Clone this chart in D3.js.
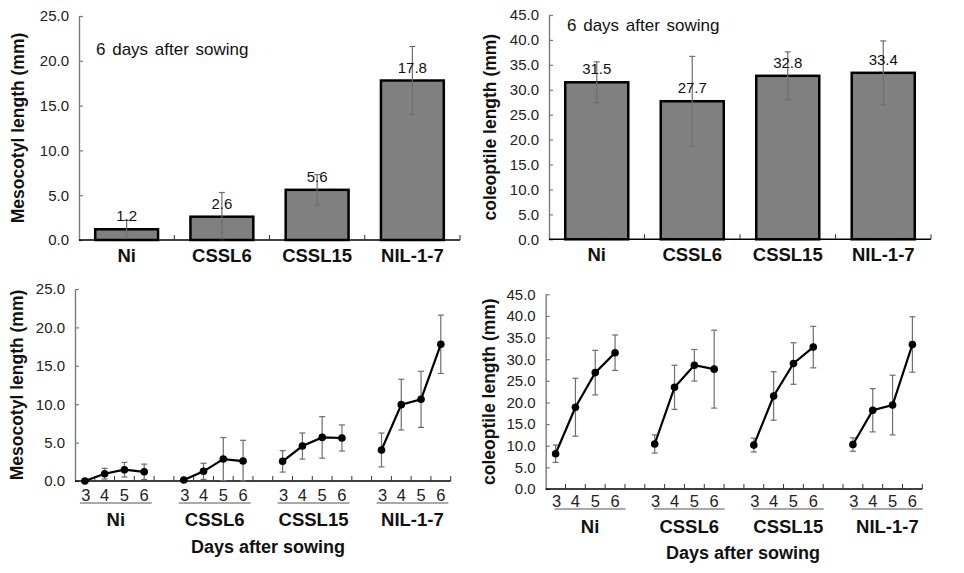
<!DOCTYPE html>
<html><head><meta charset="utf-8">
<script src="https://cdn.jsdelivr.net/npm/d3@7"></script>
<style>body{margin:0;background:#fff}svg{display:block}</style>
</head><body>
<script>
// ---- data ----
const categories = ["Ni", "CSSL6", "CSSL15", "NIL-1-7"];
const days = ["3", "4", "5", "6"];
const mesoBar = [1.2, 2.6, 5.6, 17.8];
const mesoBarSD = [1.0, 2.7, 1.7, 3.8];
const coleBar = [31.5, 27.7, 32.8, 33.4];
const coleBarSD = [4.1, 9.0, 4.8, 6.4];
const mesoMeans = [[0.0, 0.95, 1.47, 1.2], [0.13, 1.26, 2.86, 2.6], [2.56, 4.55, 5.68, 5.6], [4.04, 9.94, 10.63, 17.8]];
const mesoSD = [[0, 0.7, 0.95, 1.0], [0, 1.05, 2.8, 2.7], [1.4, 1.7, 2.7, 1.7], [2.2, 3.3, 3.65, 3.8]];
const coleMeans = [[8.15, 18.9, 26.9, 31.5], [10.4, 23.5, 28.6, 27.7], [10.15, 21.5, 29.0, 32.8], [10.27, 18.2, 19.4, 33.4]];
const coleSD = [[2.0, 6.7, 5.15, 4.1], [2.1, 5.1, 3.65, 9.0], [1.6, 5.6, 4.8, 4.8], [1.55, 5.0, 6.9, 6.4]];
const mesoTicks = [0, 5, 10, 15, 20, 25];
const coleTicks = [0, 5, 10, 15, 20, 25, 30, 35, 40, 45];
const mesoTitle = "Mesocotyl length (mm)";
const coleTitle = "coleoptile length (mm)";
const noteText = "6 days after sowing";
const xTitle = "Days after sowing";

const W = 964, H = 573;
const FONT = "'Liberation Sans', Arial, sans-serif";
const svg = d3.select("body").append("svg").attr("width", W).attr("height", H)
  .style("font-family", FONT);

function yAxis(g, y, ticks, x0) {
  const ax = d3.axisLeft(y).tickValues(ticks).tickFormat(d3.format(".1f"))
    .tickSizeInner(-4).tickSizeOuter(0).tickPadding(10);
  const a = g.append("g").attr("transform", `translate(${x0},0)`).call(ax);
  a.select(".domain").attr("stroke", "#7a7a7a").attr("stroke-width", 1.4);
  a.selectAll(".tick line").attr("stroke", "#7a7a7a").attr("stroke-width", 1.2);
  a.selectAll(".tick text").attr("font-size", 15).attr("fill", "#222").attr("font-family", FONT);
}

function yTitle(g, text, cx, cy) {
  g.append("text").attr("transform", `translate(${cx},${cy}) rotate(-90)`)
    .attr("text-anchor", "middle").attr("dominant-baseline", "central")
    .attr("font-weight", "bold").attr("font-size", 17.5).attr("fill", "#111").text(text);
}

function errBar(g, x, yTop, yBot, cap) {
  g.append("line").attr("x1", x).attr("x2", x).attr("y1", yTop).attr("y2", yBot)
    .attr("stroke", "#6e6e6e").attr("stroke-width", 1.2);
  [yTop, yBot].forEach(yy => g.append("line").attr("x1", x - cap).attr("x2", x + cap)
    .attr("y1", yy).attr("y2", yy).attr("stroke", "#6e6e6e").attr("stroke-width", 1.2));
}

// ---- bar panels ----
function barPanel(cfg) {
  const g = svg.append("g");
  const y = d3.scaleLinear().domain([0, cfg.max]).range([cfg.yBot, cfg.yTop]);
  const xb = d3.scaleBand().domain(cfg.cats).range([cfg.x0, cfg.x1]).paddingInner(0.34).paddingOuter(0.17);
  const xs = d3.scaleBand().domain(cfg.cats).range([cfg.x0, cfg.x1]).padding(0);
  g.selectAll("rect.bar").data(cfg.values).enter().append("rect")
    .attr("x", (d, i) => xb(cfg.cats[i])).attr("width", xb.bandwidth())
    .attr("y", d => y(d)).attr("height", d => y(0) - y(d))
    .attr("fill", "#808080").attr("stroke", "#000").attr("stroke-width", 2.5);
  cfg.values.forEach((v, i) => {
    const cx = xb(cfg.cats[i]) + xb.bandwidth() / 2;
    errBar(g, cx, y(v + cfg.sd[i]), y(Math.max(0, v - cfg.sd[i])), 3);
  });
  g.selectAll("text.val").data(cfg.values).enter().append("text")
    .attr("x", (d, i) => xb(cfg.cats[i]) + xb.bandwidth() / 2)
    .attr("y", d => y(d) - 8).attr("text-anchor", "middle")
    .attr("font-size", 15).attr("fill", "#111").text(d => d3.format(".1f")(d));
  yAxis(g, y, cfg.ticks, cfg.x0);
  g.append("line").attr("x1", cfg.x0).attr("x2", cfg.x1).attr("y1", y(0)).attr("y2", y(0))
    .attr("stroke", "#000").attr("stroke-width", 1.5);
  const bounds = cfg.cats.map(c => xs(c)).concat([cfg.x1]).slice(1);
  bounds.forEach(bx => g.append("line").attr("x1", bx).attr("x2", bx)
    .attr("y1", y(0)).attr("y2", y(0) - 5).attr("stroke", "#333").attr("stroke-width", 1));
  g.selectAll("text.cat").data(cfg.cats).enter().append("text")
    .attr("x", d => xs(d) + xs.bandwidth() / 2).attr("y", cfg.catY)
    .attr("text-anchor", "middle").attr("font-weight", "bold").attr("font-size", 18.5)
    .attr("fill", "#111").text(d => d);
  g.append("text").attr("x", cfg.noteX).attr("y", cfg.noteY).attr("font-size", 17)
    .attr("fill", "#111").attr("word-spacing", 2).text(noteText);
  yTitle(g, cfg.title, cfg.titleX, (cfg.yTop + cfg.yBot) / 2);
}

barPanel({ cats: categories, values: mesoBar, sd: mesoBarSD, ticks: mesoTicks, max: 25,
  x0: 79, x1: 460, yTop: 16, yBot: 240, catY: 262, noteX: 96, noteY: 55,
  title: mesoTitle, titleX: 18 });
barPanel({ cats: categories, values: coleBar, sd: coleBarSD, ticks: coleTicks, max: 45,
  x0: 549, x1: 931, yTop: 15, yBot: 239.3, catY: 261, noteX: 567, noteY: 31,
  title: coleTitle, titleX: 490 });

// ---- time course panels ----
function linePanel(cfg) {
  const g = svg.append("g");
  const y = d3.scaleLinear().domain([0, cfg.max]).range([cfg.yBot, cfg.yTop]);
  const slots = [];
  categories.forEach((c, ci) => {
    days.forEach(d => slots.push(c + "|" + d));
    if (ci < categories.length - 1) slots.push("gap" + ci);
  });
  const x = d3.scaleBand().domain(slots).range([cfg.x0, cfg.x1]).padding(0);
  const cxOf = k => x(k) + x.bandwidth() / 2;
  yAxis(g, y, cfg.ticks, cfg.x0);
  g.append("line").attr("x1", cfg.x0).attr("x2", cfg.x1).attr("y1", y(0)).attr("y2", y(0))
    .attr("stroke", "#000").attr("stroke-width", 1.5);
  slots.concat(["end"]).forEach((k, i) => {
    if (i === 0) return;
    const bx = k === "end" ? cfg.x1 : x(k);
    g.append("line").attr("x1", bx).attr("x2", bx).attr("y1", y(0)).attr("y2", y(0) - 5)
      .attr("stroke", "#333").attr("stroke-width", 1);
  });
  categories.forEach((c, ci) => {
    const keys = days.map(d => c + "|" + d);
    const means = cfg.means[ci], sds = cfg.sd[ci];
    keys.forEach((k, j) => {
      if (sds[j] > 0) errBar(g, cxOf(k), y(means[j] + sds[j]), y(Math.max(0, means[j] - sds[j])), 3);
    });
    const line = d3.line().x((d, j) => cxOf(keys[j])).y(d => y(d));
    g.append("path").attr("d", line(means)).attr("fill", "none")
      .attr("stroke", "#000").attr("stroke-width", 2.2);
    g.selectAll(null).data(means).enter().append("circle")
      .attr("cx", (d, j) => cxOf(keys[j])).attr("cy", d => y(d)).attr("r", 3.8).attr("fill", "#000");
    g.selectAll(null).data(days).enter().append("text")
      .attr("x", (d, j) => cxOf(keys[j]) + (j === 0 ? 1 : 0)).attr("y", cfg.dayY)
      .attr("text-anchor", "middle").attr("font-size", 16.5).attr("fill", "#222").text(d => d);
    const ux0 = cxOf(keys[0]) - cfg.ulL, ux1 = cxOf(keys[3]) + cfg.ulR;
    g.append("line").attr("x1", ux0).attr("x2", ux1).attr("y1", cfg.ulY).attr("y2", cfg.ulY)
      .attr("stroke", "#555").attr("stroke-width", 1.1);
    g.append("text").attr("x", (ux0 + ux1) / 2).attr("y", cfg.grpY).attr("text-anchor", "middle")
      .attr("font-weight", "bold").attr("font-size", 18.5).attr("fill", "#111").text(c);
  });
  g.append("text").attr("x", cfg.xtX).attr("y", cfg.xtY).attr("text-anchor", "middle")
    .attr("font-weight", "bold").attr("font-size", 18).attr("fill", "#111").text(xTitle);
  yTitle(g, cfg.title, cfg.titleX, (cfg.yTop + cfg.yBot) / 2);
}

linePanel({ means: mesoMeans, sd: mesoSD, ticks: mesoTicks, max: 25,
  x0: 75, x1: 450.7, yTop: 289, yBot: 481, dayY: 501, ulY: 503, ulL: 5, ulR: 7.5,
  grpY: 526, xtX: 268, xtY: 553, title: mesoTitle, titleX: 17 });
linePanel({ means: coleMeans, sd: coleSD, ticks: coleTicks, max: 45,
  x0: 545.7, x1: 922.3, yTop: 294.3, yBot: 489, dayY: 506.5, ulY: 509, ulL: 1, ulR: 10.5,
  grpY: 533, xtX: 743, xtY: 559, title: coleTitle, titleX: 489 });
</script>
</body></html>
